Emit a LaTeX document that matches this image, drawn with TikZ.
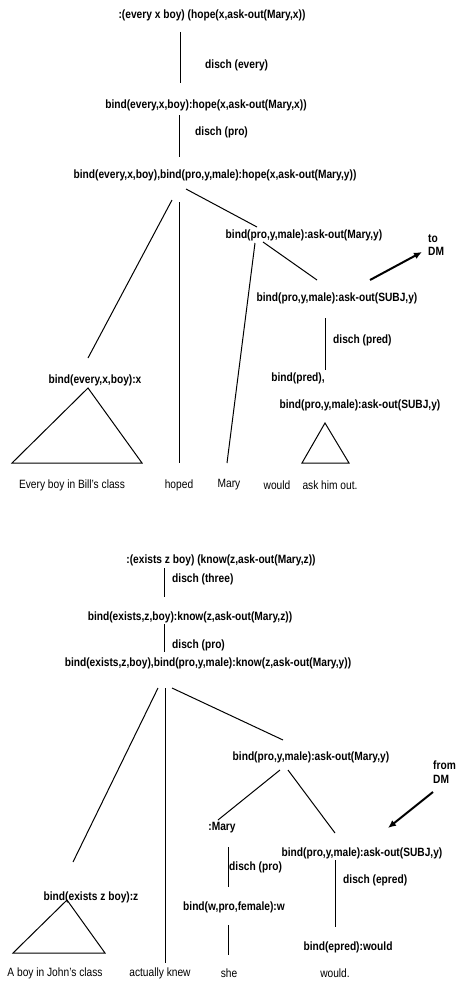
\documentclass[tikz,border=0pt]{standalone}
\usepackage{fontspec}
\setmainfont{Liberation Sans}[FakeStretch=0.85]
\usetikzlibrary{arrows.meta}

\begin{document}
\begin{tikzpicture}[x=1pt, y=-1pt,
  every node/.style={font=\fontsize{12}{13.5}\selectfont\bfseries, inner sep=0pt},
  leaf/.style={font=\fontsize{12}{13.5}\selectfont},
  disch/.style={anchor=west},
  branch/.style={line width=1pt},
  dmarrow/.style={-{Latex[length=8pt,width=7pt]}, line width=2pt}
]
\useasboundingbox (0,0) rectangle (461,982);

% first derivation
\node (t1) at (212,15)  {:(every x boy) (hope(x,ask-out(Mary,x))};
\node[disch] (d1) at (205,65) {disch (every)};
\node (t2) at (206,105) {bind(every,x,boy):hope(x,ask-out(Mary,x))};
\node[disch] (d2) at (195,132) {disch (pro)};
\node (t3) at (215,175) {bind(every,x,boy),bind(pro,y,male):hope(x,ask-out(Mary,y))};
\node (t4) at (304,235) {bind(pro,y,male):ask-out(Mary,y)};
\node (t5) at (337,298) {bind(pro,y,male):ask-out(SUBJ,y)};
\node[anchor=west, align=left] (todm) at (428,245) {to\\DM};
\node[disch] (d3) at (333,340) {disch (pred)};
\node (t6) at (298,378) {bind(pred),};
\node (t7) at (360,405) {bind(pro,y,male):ask-out(SUBJ,y)};
\node (t8) at (95,380)  {bind(every,x,boy):x};
\node[leaf] (w1) at (72,485)  {Every boy in Bill's class};
\node[leaf] (w2) at (179,485) {hoped};
\node[leaf] (w3) at (229,485) {Mary};
\node[leaf] (w4) at (277,485) {would};
\node[leaf] (w5) at (330,485) {ask him out.};

\draw[branch] ([shift={(-32,17)}]t1.center) -- ([shift={(-26,-22)}]t2.center);
\draw[branch] ([shift={(-27,10)}]t2.center) -- ([shift={(-36,-18)}]t3.center);
\draw[branch] ([shift={(-43,25)}]t3.center) -- ([shift={(-7,-22)}]t8.center);
\draw[branch] ([shift={(-36,27)}]t3.center) -- ([shift={(0,-22)}]w2.center);
\draw[branch] ([shift={(-29,14)}]t3.center) -- ([shift={(-47,-8)}]t4.center);
\draw[branch] ([shift={(-41,7)}]t4.center) -- ([shift={(-20,-18)}]t5.center);
\draw[branch] ([shift={(-49,8)}]t4.center) -- ([shift={(-2,-22)}]w3.center);
\draw[branch] ([shift={(-12,20)}]t5.center) -- ([shift={(27,-8)}]t6.center);
\draw[dmarrow] ([shift={(33,-18)}]t5.center) -- ([shift={(-6,7)}]todm.west);
\draw[branch] ([shift={(-7,8)}]t8.center) -- ([shift={(-60,-22)}]w1.center)
  -- ([shift={(70,-22)}]w1.center) -- cycle;
\draw[branch] ([shift={(-35,18)}]t7.center) -- ([shift={(-28,-22)}]w5.center)
  -- ([shift={(19,-22)}]w5.center) -- cycle;

% second derivation
\node (b1) at (221,560) {:(exists z boy) (know(z,ask-out(Mary,z))};
\node[disch] (d4) at (172,579) {disch (three)};
\node (b2) at (190,617) {bind(exists,z,boy):know(z,ask-out(Mary,z))};
\node[disch] (d5) at (172,645) {disch (pro)};
\node (b3) at (208,663) {bind(exists,z,boy),bind(pro,y,male):know(z,ask-out(Mary,y))};
\node (b4) at (311,757) {bind(pro,y,male):ask-out(Mary,y)};
\node[anchor=west, align=left] (fromdm) at (433,772) {from\\DM};
\node (m2) at (222,828) {:Mary};
\node[disch] (d6) at (229,867) {disch (pro)};
\node (b6) at (234,907) {bind(w,pro,female):w};
\node (b5) at (362,853) {bind(pro,y,male):ask-out(SUBJ,y)};
\node[disch] (d7) at (343,880) {disch (epred)};
\node (b7) at (348,947) {bind(epred):would};
\node (b8) at (91,897)  {bind(exists z boy):z};
\node[leaf] (v1) at (55,973)  {A boy in John's class};
\node[leaf] (v2) at (160,973) {actually knew};
\node[leaf] (v3) at (229,973) {she};
\node[leaf] (v4) at (335,973) {would.};

\draw[branch] ([shift={(-57,8)}]b1.center) -- ([shift={(-26,-20)}]b2.center);
\draw[branch] ([shift={(-26,7)}]b2.center) -- ([shift={(-44,-11)}]b3.center);
\draw[branch] ([shift={(-50,25)}]b3.center) -- ([shift={(-18,-35)}]b8.center);
\draw[branch] ([shift={(-43,25)}]b3.center) -- ([shift={(5,-10)}]v2.center);
\draw[branch] ([shift={(-36,25)}]b3.center) -- ([shift={(-28,-17)}]b4.center);
\draw[branch] ([shift={(-31,13)}]b4.center) -- ([shift={(-4,-8)}]m2.center);
\draw[branch] ([shift={(-23,13)}]b4.center) -- ([shift={(-27,-20)}]b5.center);
\draw[dmarrow] ([shift={(0,20)}]fromdm.west) -- ([shift={(26,-25)}]b5.center);
\draw[branch] ([shift={(6,19)}]m2.center) -- ([shift={(-6,-20)}]b6.center);
\draw[branch] ([shift={(-6,18)}]b6.center) -- ([shift={(-1,-18)}]v3.center);
\draw[branch] ([shift={(-27,7)}]b5.center) -- ([shift={(-13,-20)}]b7.center);
\draw[branch] ([shift={(-24,3)}]b8.center) -- ([shift={(-42,-20)}]v1.center)
  -- ([shift={(50,-20)}]v1.center) -- cycle;
\end{tikzpicture}
\end{document}
